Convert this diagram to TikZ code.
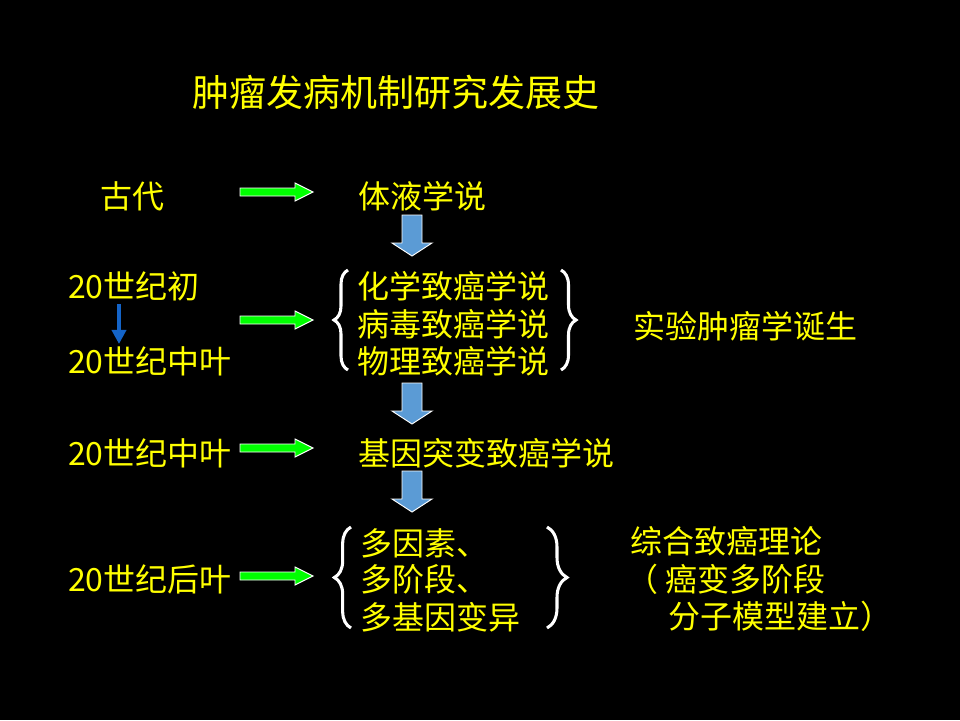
\documentclass[tikz,border=0pt]{standalone}
\usepackage{fontspec}
\setmainfont{Noto Sans CJK SC}
\usetikzlibrary{decorations.pathreplacing,arrows.meta}
\definecolor{txt}{RGB}{255,255,0}
\definecolor{arrowgreen}{RGB}{0,255,0}
\definecolor{blockblue}{RGB}{91,155,213}
\definecolor{darkblue}{RGB}{20,100,200}
\tikzset{
  garrow/.pic={\draw[white,line width=0.8pt,fill=arrowgreen] (0,-4) -- (55,-4) -- (55,-9) -- (73,0) -- (55,9) -- (55,4) -- (0,4) -- cycle;},
  barrow/.pic={\draw[white,line width=0.8pt,fill=blockblue] (-10,0) -- (10,0) -- (10,28) -- (20,28) -- (0,41) -- (-20,28) -- (-10,28) -- cycle;},
}
\begin{document}
\begin{tikzpicture}[x=0.03cm,y=-0.03cm,
  lbl/.style={anchor=west,inner sep=0,yshift=-6pt,text=txt,font=\fontsize{27.3pt}{30pt}\selectfont,text height=0.88em,text depth=0.12em},
  ttl/.style={anchor=west,inner sep=0,yshift=-6pt,text=txt,font=\fontsize{31.6pt}{34pt}\selectfont,text height=0.88em,text depth=0.12em},
  bracestyle/.style={draw=white,line width=2.6pt,decorate,decoration={brace,amplitude=#1}},
]
\fill[black] (0,0) rectangle (960,720);
\useasboundingbox (0,0) rectangle (960,720);

\node[ttl] (title) at (192,95) {肿瘤发病机制研究发展史};

% row 1
\node[lbl] (gudai) at (100,197) {古代};
\node[lbl] (tiye) at (358,197) {体液学说};
\pic at (240,192) {garrow};
\pic at (412,215) {barrow};

% row 2
\node[lbl] (e20a) at (68,287) {20世纪初};
\node[lbl] (m20a) at (68,362) {20世纪中叶};
\coordinate (sa) at (119,304);
\coordinate (sb) at (119,344);
\draw[darkblue,line width=3.5pt,-{Triangle[length=12pt,width=12pt]}] (sa) -- (sb);
\pic at (240,320) {garrow};
\node[lbl] (hx) at (357,287) {化学致癌学说};
\node[lbl] (bd) at (357,325) {病毒致癌学说};
\node[lbl] (wl) at (357,362) {物理致癌学说};
\draw[bracestyle=0.42cm] (348,370) -- (348,270);
\draw[bracestyle=0.45cm] (561,270) -- (561,370);
\node[lbl] (syzl) at (633,327) {实验肿瘤学诞生};
\pic at (412,383) {barrow};

% row 3
\node[lbl] (m20b) at (68,454) {20世纪中叶};
\pic at (240,448) {garrow};
\node[lbl] (jytb) at (358,454) {基因突变致癌学说};
\pic at (412,471) {barrow};

% row 4
\node[lbl] (l20) at (68,580) {20世纪后叶};
\pic at (240,576) {garrow};
\node[lbl] (dys) at (360,544) {多因素、};
\node[lbl] (djd) at (360,580) {多阶段、};
\node[lbl] (djy) at (360,618) {多基因变异};
\draw[bracestyle=0.5cm] (351,628) -- (351,527);
\draw[bracestyle=0.6cm] (547,527) -- (547,628);
\node[lbl] (zh) at (630,542) {综合致癌理论};
\node[lbl] (ab) at (626,580) {（ 癌变多阶段};
\node[lbl] (fz) at (668,617) {分子模型建立）};
\end{tikzpicture}
\end{document}
